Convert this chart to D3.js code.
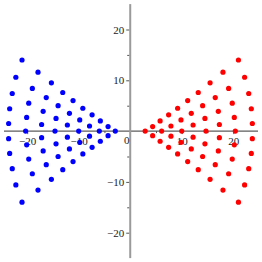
<!DOCTYPE html>
<html lang="en-US">
<head>
<meta charset="UTF-8">
<title>Points</title>
<style>
  body {margin: 0; background: #fff;}
  .tick text {font-family: "Liberation Serif", "DejaVu Serif", serif; font-size: 11px; fill: #222;}
  .tick line {stroke: #555;}
</style>
</head>
<body>
<div id="viz"></div>
<script src="https://d3js.org/d3.v7.min.js"></script>
<script>
// blue points, left wedge (x, y)
var bluePoints = [
  [-2.9, 0],
  [-4.3, 0.9], [-4.3, -0.9],
  [-5.8, 2.0], [-6.0, 0], [-5.8, -2.0],
  [-7.4, 3.2], [-7.9, 1.0], [-7.9, -1.0], [-7.4, -3.2],
  [-9.2, 4.5], [-9.8, 2.2], [-10.0, 0], [-9.8, -2.2], [-9.2, -4.5],
  [-11.1, 6.0], [-11.8, 3.5], [-12.2, 1.2], [-12.2, -1.2], [-11.8, -3.5], [-11.1, -6.0],
  [-13.1, 7.6], [-14.0, 5.0], [-14.4, 2.5], [-14.6, 0], [-14.4, -2.5], [-14.0, -5.0], [-13.1, -7.6],
  [-15.3, 9.5], [-16.3, 6.6], [-16.9, 3.9], [-17.2, 1.3], [-17.2, -1.3], [-16.9, -3.9], [-16.3, -6.6], [-15.3, -9.5],
  [-17.9, 11.6], [-19.0, 8.4], [-19.7, 5.5], [-20.1, 2.7], [-20.3, 0], [-20.1, -2.7], [-19.7, -5.5], [-19.0, -8.4], [-17.9, -11.6],
  [-21.0, 14.0], [-22.2, 10.6], [-22.9, 7.4], [-23.4, 4.4], [-23.6, 1.5], [-23.6, -1.5], [-23.4, -4.4], [-22.9, -7.4], [-22.2, -10.6], [-21.0, -14.0]
];

// red points, right wedge (x, y)
var redPoints = [
  [2.9, 0],
  [4.35, 0.9], [4.35, -0.9],
  [5.8, 2.0], [6.1, 0], [5.8, -2.0],
  [7.45, 3.2], [7.9, 1.0], [7.9, -1.0], [7.45, -3.2],
  [9.2, 4.5], [9.85, 2.2], [10.0, 0], [9.85, -2.2], [9.2, -4.5],
  [11.15, 6.0], [11.85, 3.5], [12.2, 1.2], [12.2, -1.2], [11.85, -3.5], [11.15, -6.0],
  [13.2, 7.6], [14.05, 5.0], [14.5, 2.5], [14.7, 0], [14.5, -2.5], [14.05, -5.0], [13.2, -7.6],
  [15.5, 9.5], [16.5, 6.6], [17.1, 3.9], [17.3, 1.3], [17.3, -1.3], [17.1, -3.9], [16.5, -6.6], [15.5, -9.5],
  [18.0, 11.6], [19.1, 8.4], [19.8, 5.5], [20.2, 2.7], [20.4, 0], [20.2, -2.7], [19.8, -5.5], [19.1, -8.4], [18.0, -11.6],
  [21.0, 14.0], [22.2, 10.6], [23.0, 7.4], [23.5, 4.4], [23.7, 1.5], [23.7, -1.5], [23.5, -4.4], [23.0, -7.4], [22.2, -10.6], [21.0, -14.0]
];

var xMajor = [-20, -10, 10, 20],
    xMinor = [-15, -5, 5, 15],
    yMajor = [-20, -10, 10, 20],
    yMinor = [-15, -5, 5, 15];

var width = 262,
    height = 262;

var x = d3.scaleLinear().domain([-24.5, 24.8]).range([4, 258]);
var y = d3.scaleLinear().domain([-25, 25]).range([258.1, 4.1]);

var svg = d3.select("#viz").append("svg")
    .attr("width", width)
    .attr("height", height);

var fmt = function(d) { return d < 0 ? "\u2212" + (-d) : "" + d; };

// horizontal axis
svg.append("line")
    .attr("x1", x(-24.5)).attr("x2", x(24.8))
    .attr("y1", y(0)).attr("y2", y(0))
    .attr("stroke", "#333").attr("stroke-width", 1);

var gx = svg.append("g").attr("transform", "translate(0," + y(0) + ")");
gx.call(d3.axisBottom(x).tickValues(xMajor).tickSize(3).tickPadding(3).tickFormat(fmt));
gx.append("g").call(d3.axisBottom(x).tickValues(xMinor).tickSize(2).tickFormat(""));
gx.selectAll(".domain").remove();

// vertical axis
svg.append("line")
    .attr("x1", x(0)).attr("x2", x(0))
    .attr("y1", y(25)).attr("y2", y(-25))
    .attr("stroke", "#9a9a9a").attr("stroke-width", 2);

var gy = svg.append("g").attr("transform", "translate(" + (x(0) - 1) + ",0)");
gy.call(d3.axisLeft(y).tickValues(yMajor).tickSize(3).tickPadding(2).tickFormat(fmt));
gy.append("g").call(d3.axisLeft(y).tickValues(yMinor).tickSize(2).tickFormat(""));
gy.selectAll(".domain").remove();

// origin label
svg.append("text")
    .attr("x", x(0) - 3.5)
    .attr("y", y(0) + 13)
    .attr("text-anchor", "middle")
    .style("font-family", "'Liberation Serif', serif")
    .style("font-size", "11px")
    .attr("fill", "#222")
    .text("0");

svg.append("g").selectAll("circle")
    .data(bluePoints)
    .enter().append("circle")
    .attr("cx", function(d) { return x(d[0]); })
    .attr("cy", function(d) { return y(d[1]); })
    .attr("r", 2.6)
    .attr("fill", "#0000ff");

svg.append("g").selectAll("circle")
    .data(redPoints)
    .enter().append("circle")
    .attr("cx", function(d) { return x(d[0]); })
    .attr("cy", function(d) { return y(d[1]); })
    .attr("r", 2.6)
    .attr("fill", "#ff0000");
</script>
</body>
</html>
